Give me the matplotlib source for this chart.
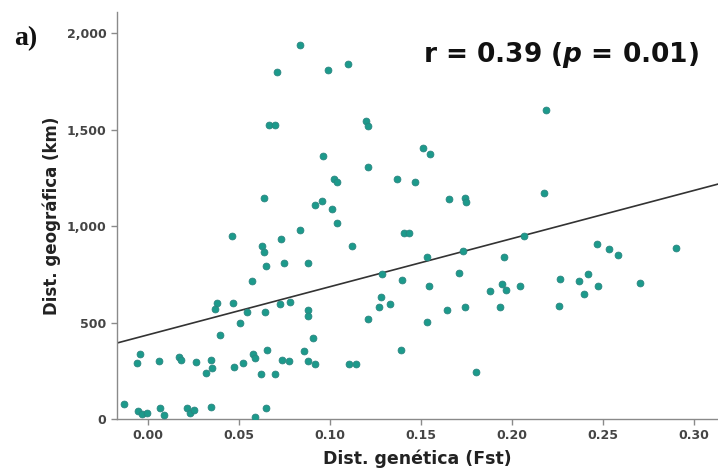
import numpy as np
import matplotlib
matplotlib.use("Agg")
import matplotlib.pyplot as plt
from matplotlib.ticker import FuncFormatter

plt.rcParams["font.family"] = ["DejaVu Sans"]
plt.rcParams["mathtext.fontset"] = "custom"
plt.rcParams["mathtext.it"] = "DejaVu Sans:italic:bold"
plt.rcParams["mathtext.rm"] = "DejaVu Sans:bold"

# pairwise genetic distance (Fst) vs geographic distance (km)
fst = [
    -0.0132, -0.0055, -0.0033, -0.0005, 0.0066, 0.0088, 0.0214, 0.0230, 0.0253,
    0.0346, 0.0588, 0.0648,
    -0.0044, -0.0060, 0.0060, 0.0170, 0.0180, 0.0264, 0.0346, 0.0352, 0.0319,
    0.0396, 0.0379, 0.0368, 0.0467, 0.0505, 0.0460, 0.0544, 0.0643, 0.0571,
    0.0648, 0.0747, 0.0725, 0.0780, 0.0473, 0.0520, 0.0577, 0.0588, 0.0654,
    0.0620, 0.0698, 0.0736, 0.0775, 0.0857, 0.0880, 0.0918, 0.0907, 0.0880,
    0.0880, 0.0880, 0.1104, 0.1143,
    0.0637, 0.0626, 0.0637, 0.0731, 0.0835, 0.0665, 0.0698, 0.0835, 0.0709,
    0.0989, 0.1100, 0.0962, 0.1198, 0.1209, 0.1209, 0.1022, 0.1038, 0.0918,
    0.0956, 0.1011, 0.1038, 0.1121, 0.1368, 0.1467, 0.1511, 0.1550, 0.1654,
    0.1742, 0.1747, 0.1407, 0.1434,
    0.1286, 0.1396, 0.1280, 0.1269, 0.1330, 0.1209, 0.1390, 0.1533, 0.1544,
    0.1533, 0.1643, 0.1709, 0.1742, 0.1730, 0.1802,
    0.2187, 0.2176, 0.2066, 0.1956, 0.1945, 0.1967, 0.1880, 0.2044, 0.1934,
    0.2467, 0.2533, 0.2582, 0.2900, 0.2264, 0.2368, 0.2418, 0.2473, 0.2396,
    0.2258, 0.2703,
]
geo_km = [
    78, 41, 26, 31, 57, 21, 57, 31, 47,
    62, 10, 57,
    337, 290, 301, 321, 306, 295, 306, 264, 238,
    435, 601, 570, 601, 497, 948, 554, 554, 715,
    793, 808, 596, 606, 269, 290, 337, 316, 358,
    233, 233, 306, 301, 352, 301, 285, 420, 565,
    534, 808, 285, 285,
    1145, 896, 865, 933, 979, 1523, 1523, 1938, 1798,
    1808, 1839, 1363, 1544, 1518, 1306, 1244, 1228, 1109,
    1129, 1088, 1016, 896, 1244, 1228, 1404, 1373, 1140,
    1145, 1124, 964, 964,
    751, 720, 632, 580, 596, 518, 358, 839, 689,
    503, 565, 756, 580, 870, 244,
    1601, 1171, 948, 839, 699, 668, 663, 689, 580,
    907, 881, 850, 886, 725, 715, 751, 689, 648,
    585, 705,
]

# fitted line as drawn on the published panel
fit_intercept = 436.5
fit_slope = 2495.0

x_ticks = [0.00, 0.05, 0.10, 0.15, 0.20, 0.25, 0.30]
y_ticks = [0, 500, 1000, 1500, 2000]

fig = plt.figure(figsize=(7.18, 4.70), dpi=100)
ax = fig.add_axes([0.163, 0.1085, 0.837, 0.8655])

ax.scatter(fst, geo_km, s=24, color="#1c9a8b", edgecolors="#2a8580",
           linewidths=0.6, zorder=3)

xl = np.array([-0.01703, 0.3132])
ax.plot(xl, fit_intercept + fit_slope * xl, color="#333333", lw=1.2, zorder=2)

ax.set_xlim(-0.01703, 0.3132)
ax.set_ylim(0, 2109)
ax.set_xticks(x_ticks)
ax.set_yticks(y_ticks)
ax.xaxis.set_major_formatter(FuncFormatter(lambda v, p: f"{v:.2f}"))
ax.yaxis.set_major_formatter(FuncFormatter(lambda v, p: f"{v:,.0f}"))

for side in ["top", "right"]:
    ax.spines[side].set_visible(False)
for side in ["left", "bottom"]:
    ax.spines[side].set_color("#8a8a8a")
    ax.spines[side].set_linewidth(1.0)
ax.tick_params(colors="#8a8a8a", length=4, width=1.0, labelsize=9,
               labelcolor="#444444")
for lab in ax.get_xticklabels() + ax.get_yticklabels():
    lab.set_fontweight("bold")

ax.set_xlabel("Dist. genética (Fst)", fontsize=12.5, fontweight="bold",
              color="#222222", labelpad=5)
ax.set_ylabel("Dist. geográfica (km)", fontsize=12, fontweight="bold",
              color="#222222", labelpad=4)

fig.text(0.02, 0.905, "a)", fontsize=20, fontweight="bold",
         family="Liberation Serif", color="#111111")
ax.text(0.968, 0.895, r"r = 0.39 ($p$ = 0.01)", transform=ax.transAxes,
        ha="right", va="center", fontsize=19, fontweight="bold",
        color="#111111")

fig.savefig("out.png", dpi=100)
